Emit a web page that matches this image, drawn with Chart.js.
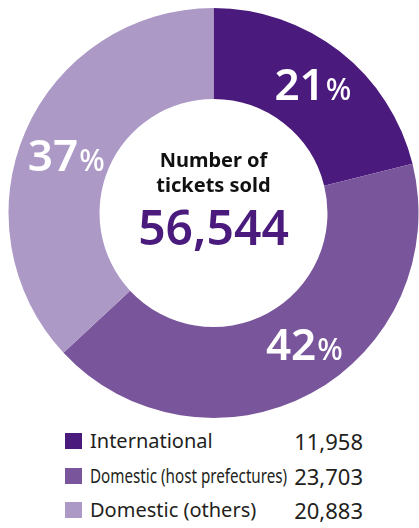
<!DOCTYPE html>
<html>
<head>
<meta charset="utf-8">
<script src="https://cdn.jsdelivr.net/npm/chart.js@4.4.1/dist/chart.umd.min.js"></script>
<style>
  html, body { margin: 0; padding: 0; background: #fff; }
  body { width: 419px; height: 528px; overflow: hidden; position: relative; font-family: "Noto Sans", sans-serif; color: #231f20; }
  #wrap { position: absolute; left: 0; top: 0; width: 419px; height: 418px; }
  .row { position: absolute; left: 65px; width: 298px; height: 26px; }
  .sw { position: absolute; left: 0; top: 4px; width: 17px; height: 16px; }
  .lab { position: absolute; left: 25px; top: 0; font-size: 20px; line-height: 24px; white-space: nowrap; transform-origin: left center; }
  .lab.narrow { font-size: 19px; transform: scaleX(0.8); }
  .val { position: absolute; right: 0; top: -2px; font-size: 22px; line-height: 28px; white-space: nowrap; }
</style>
</head>
<body>
<div id="wrap"><canvas id="chart"></canvas></div>
<div id="legend"></div>
<script>
// ticket sales by visitor origin
const categories = ['International', 'Domestic (host prefectures)', 'Domestic (others)'];
const tickets = [11958, 23703, 20883];
const colors = ['#4a1a7c', '#79569b', '#ad99c6'];
const centerTitle = ['Number of', 'tickets sold'];
const totalTickets = '56,544';

// small nudges for the % labels (px), the picture doesn't put them exactly at the arc centre
const labelNudge = [[1, -3], [15, -9], [-1, 6]];

const fmt = n => n.toLocaleString('en-US');

const centerText = {
  id: 'centerText',
  afterDraw(chart) {
    const { ctx } = chart;
    const meta = chart.getDatasetMeta(0);
    const arc0 = meta.data[0];
    const cx = arc0.x, cy = arc0.y;
    ctx.save();
    ctx.textAlign = 'center';
    ctx.textBaseline = 'alphabetic';
    ctx.fillStyle = '#111';
    ctx.font = 'bold 20px "Noto Sans", sans-serif';
    ctx.fillText(centerTitle[0], cx, cy - 46);
    ctx.fillText(centerTitle[1], cx, cy - 21);
    ctx.fillStyle = colors[0];
    ctx.font = '600 48px "Noto Sans", sans-serif';
    ctx.fillText(totalTickets, cx, cy + 32);

    // percentages on each slice
    const total = tickets.reduce((a, b) => a + b, 0);
    meta.data.forEach((arc, i) => {
      const p = arc.getCenterPoint();
      const num = String(Math.round(tickets[i] / total * 100));
      ctx.font = '600 44px "Noto Sans", sans-serif';
      const wNum = ctx.measureText(num).width;
      ctx.font = '500 30px "Noto Sans", sans-serif';
      const wPct = ctx.measureText('%').width;
      const x0 = p.x + labelNudge[i][0] - (wNum + wPct + 1) / 2;
      const base = p.y + labelNudge[i][1] + 16;
      ctx.fillStyle = '#fff';
      ctx.textAlign = 'left';
      ctx.font = '600 44px "Noto Sans", sans-serif';
      ctx.fillText(num, x0, base);
      ctx.font = '500 30px "Noto Sans", sans-serif';
      ctx.fillText('%', x0 + wNum + 1, base);
    });
    ctx.restore();
  }
};

new Chart(document.getElementById('chart'), {
  type: 'doughnut',
  data: {
    labels: categories,
    datasets: [{
      data: tickets,
      backgroundColor: colors,
      borderWidth: 0,
      hoverOffset: 0
    }]
  },
  options: {
    responsive: true,
    maintainAspectRatio: false,
    animation: false,
    cutout: '55.6%',
    layout: { padding: { left: 8, right: 0, top: 8, bottom: 0 } },
    plugins: {
      legend: { display: false },
      tooltip: { enabled: false }
    }
  },
  plugins: [centerText]
});

// legend rows below the ring
const rowTops = [429, 464, 498];
const legend = document.getElementById('legend');
categories.forEach((c, i) => {
  const row = document.createElement('div');
  row.className = 'row';
  row.style.top = rowTops[i] + 'px';
  row.innerHTML = `<div class="sw" style="background:${colors[i]}"></div>` +
    `<div class="lab${i === 1 ? ' narrow' : ''}">${c}</div>` +
    `<div class="val">${fmt(tickets[i])}</div>`;
  legend.appendChild(row);
});
</script>
</body>
</html>
